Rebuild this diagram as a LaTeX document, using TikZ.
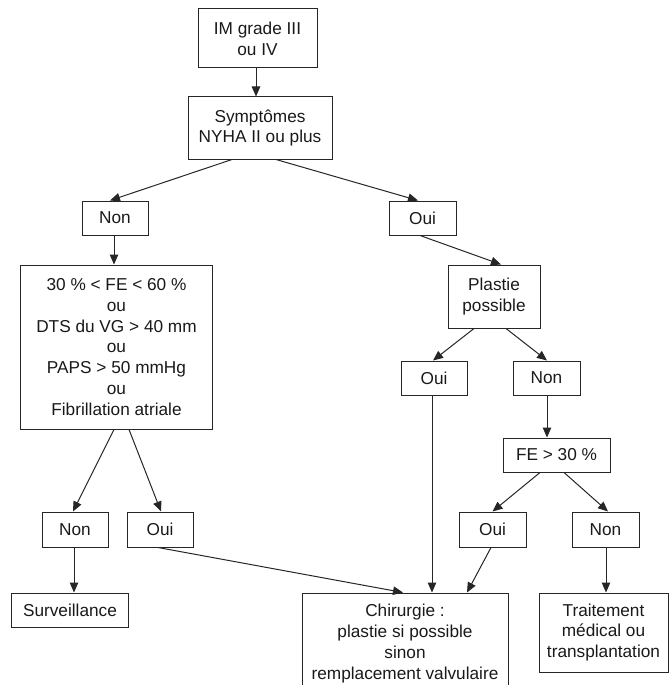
\documentclass[tikz,border=0pt]{standalone}
\usepackage{fontspec}
\setmainfont{Liberation Sans}
\usetikzlibrary{arrows.meta}
\begin{document}
\begin{tikzpicture}[x=1bp,y=-1bp,
  box/.style={draw=black!85,line width=1bp,inner sep=0pt,align=center,
    font=\fontsize{17.3}{21}\selectfont,text=black!90},
  conn/.style={draw=black!85,line width=1bp},
  arr/.style={conn,-{Triangle[length=10bp,width=8.5bp]}}]
\useasboundingbox (0,0) rectangle (669,685);
\clip (0,0) rectangle (669,685);
% nodes
\node[box,minimum width=119bp,minimum height=59bp] (im) at (257.5,38.5) {IM grade III\\ou IV};
\node[box,minimum width=144bp,minimum height=62bp] (sym) at (260,128) {Symptômes\\NYHA II ou plus};
\node[box,minimum width=66bp,minimum height=34bp] (non1) at (115,218) {Non};
\node[box,minimum width=67bp,minimum height=34bp] (oui1) at (422.5,218) {Oui};
\node[box,minimum width=191bp,minimum height=164bp] (crit) at (116.5,347)
  {30 \% < FE < 60 \%\\ou\\DTS du VG > 40 mm\\ou\\PAPS > 50 mmHg\\ou\\Fibrillation atriale};
\node[box,minimum width=92bp,minimum height=63bp] (plas) at (494,296.5) {Plastie\\possible};
\node[box,minimum width=66bp,minimum height=34bp] (oui2) at (434,378) {Oui};
\node[box,minimum width=67bp,minimum height=34bp] (non2) at (546.5,378) {Non};
\node[box,minimum width=107bp,minimum height=34bp] (fe) at (556.5,455) {FE > 30 \%};
\node[box,minimum width=66bp,minimum height=35bp] (non3) at (75,529.5) {Non};
\node[box,minimum width=66bp,minimum height=35bp] (oui3) at (160,529.5) {Oui};
\node[box,minimum width=67bp,minimum height=35bp] (oui4) at (492.5,529.5) {Oui};
\node[box,minimum width=67bp,minimum height=35bp] (non4) at (605.5,529.5) {Non};
\node[box,minimum width=116bp,minimum height=34bp] (surv) at (70,610) {Surveillance};
\node[box,minimum width=206bp,minimum height=101bp] (chir) at (405,643.5)
  {Chirurgie :\\plastie si possible\\sinon\\remplacement valvulaire};
\node[box,minimum width=129bp,minimum height=79bp] (trait) at (603.5,632.5)
  {Traitement\\médical ou\\transplantation};
% connectors
\draw[arr] ([xshift=-1.5bp]im.south) -- ([xshift=-1.5bp]im.south |- sym.north);
\draw[arr] ([xshift=-28bp]sym.south) -- ([xshift=-5bp]non1.north);
\draw[arr] ([xshift=16bp]sym.south) -- ([xshift=-4.5bp]oui1.north);
\draw[arr] ([xshift=-1bp]non1.south) -- ([xshift=-1bp]non1.south |- crit.north);
\draw[arr] ([xshift=-2.5bp]oui1.south) -- ([xshift=7bp]plas.north);
\draw[arr] ([xshift=-2.5bp]crit.south) -- ([xshift=-2bp]non3.north);
\draw[arr] ([xshift=12.5bp]crit.south) -- ([xshift=1bp]oui3.north);
\draw[arr] ([xshift=-1bp]non3.south) -- ([xshift=-1bp]non3.south |- surv.north);
\draw[arr] ([xshift=-2bp]oui3.south) -- ([xshift=-2bp]chir.north);
\draw[arr] ([xshift=-20bp]plas.south) -- ([xshift=-1bp]oui2.north);
\draw[arr] ([xshift=12bp]plas.south) -- ([xshift=0.5bp]non2.north);
\draw[arr] ([xshift=0.5bp]non2.south) -- ([xshift=0.5bp]non2.south |- fe.north);
\draw[arr] ([xshift=-2bp]oui2.south) -- ([xshift=-2bp]oui2.south |- chir.north);
\draw[arr] ([xshift=-16.5bp]fe.south) -- (oui4.north);
\draw[arr] ([xshift=7.5bp]fe.south) -- ([xshift=2.5bp]non4.north);
\draw[arr] ([xshift=-1.5bp]oui4.south) -- ([xshift=62bp]chir.north);
\draw[arr] ([xshift=0.5bp]non4.south) -- ([xshift=0.5bp]non4.south |- trait.north);
\end{tikzpicture}
\end{document}
